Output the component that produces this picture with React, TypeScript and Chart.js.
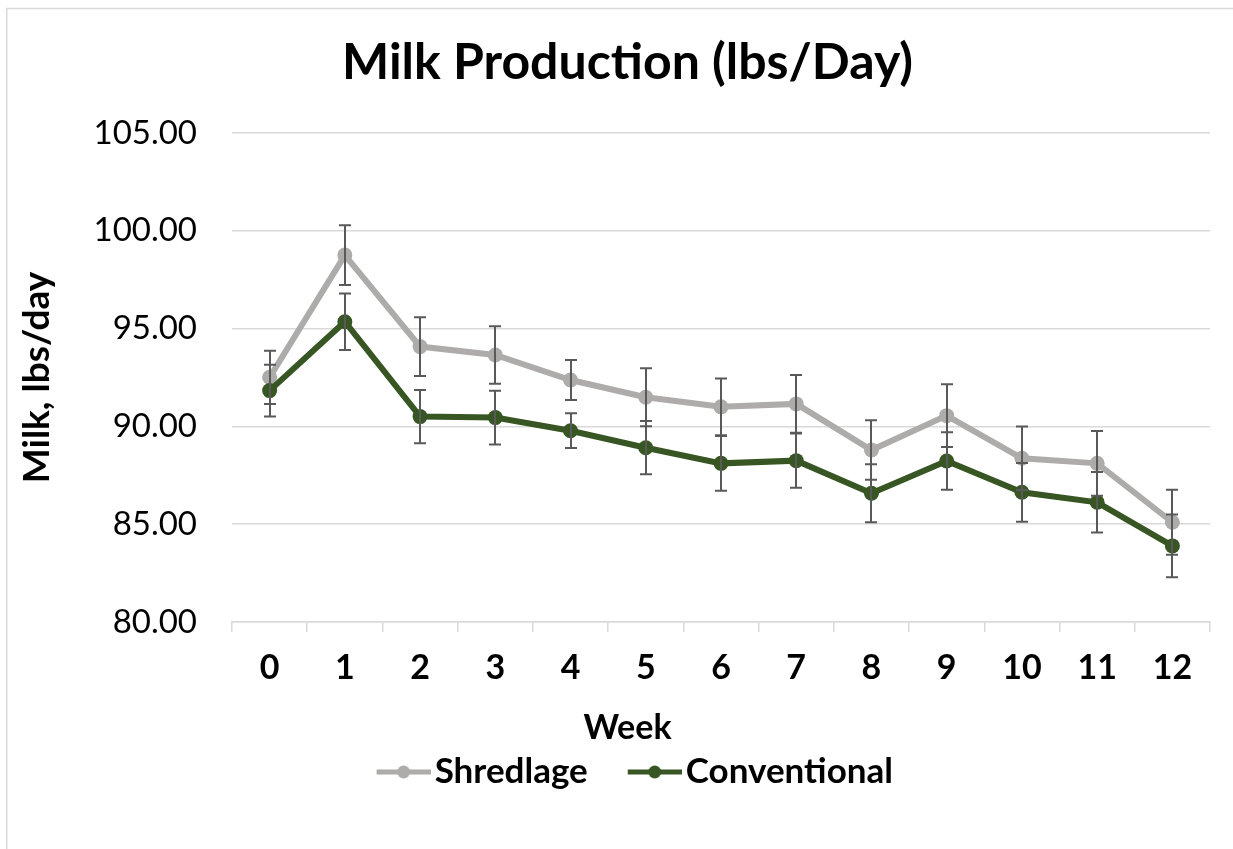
import React, { useEffect, useRef } from 'react';
import { Chart, registerables } from 'chart.js';

Chart.register(...registerables);

// ---------- data ----------
const weeks = ['0', '1', '2', '3', '4', '5', '6', '7', '8', '9', '10', '11', '12'];
const shredlage = [92.51, 98.76, 94.08, 93.65, 92.37, 91.49, 91.0, 91.15, 88.79, 90.55, 88.37, 88.11, 85.1];
const shredlageErr = [1.36, 1.53, 1.5, 1.47, 1.02, 1.48, 1.45, 1.48, 1.52, 1.6, 1.62, 1.65, 1.66];
const conventional = [91.83, 95.35, 90.5, 90.45, 89.78, 88.91, 88.11, 88.25, 86.58, 88.23, 86.63, 86.12, 83.89];
const conventionalErr = [1.32, 1.45, 1.36, 1.37, 0.89, 1.36, 1.4, 1.39, 1.48, 1.47, 1.5, 1.55, 1.6];
const seriesNames = ['Shredlage', 'Conventional'];
const yMin = 80;
const yMax = 105;
const yStep = 5;

const chartTitle = 'Milk Production (lbs/Day)';
const xTitle = 'Week';
const yTitle = 'Milk, lbs/day';

// ---------- styles ----------
const FONT = 'Lato, "Open Sans", sans-serif';
const GRAY = '#AEABAB';
const GREEN = '#375623';
const GRID = '#D9D9D9';
const ERR = '#595959';

function legendImage(color: string): HTMLCanvasElement {
  const c = document.createElement('canvas');
  c.width = 82;
  c.height = 20;
  const g = c.getContext('2d')!;
  g.strokeStyle = color;
  g.lineWidth = 5;
  g.beginPath();
  g.moveTo(28, 10);
  g.lineTo(82, 10);
  g.stroke();
  g.fillStyle = color;
  g.beginPath();
  g.arc(55, 10, 6.5, 0, Math.PI * 2);
  g.fill();
  return c;
}

const errorBarPlugin = {
  id: 'errorBars',
  afterDatasetsDraw(chart: any) {
    const { ctx } = chart;
    const y = chart.scales.y;
    ctx.save();
    ctx.strokeStyle = ERR;
    ctx.lineWidth = 2;
    chart.data.datasets.forEach((ds: any, di: number) => {
      const meta = chart.getDatasetMeta(di);
      meta.data.forEach((pt: any, i: number) => {
        const v = ds.data[i];
        const e = ds.errors[i];
        const px = Math.round(pt.x);
        const top = y.getPixelForValue(v + e);
        const bot = y.getPixelForValue(v - e);
        ctx.beginPath();
        ctx.moveTo(px, top);
        ctx.lineTo(px, bot);
        ctx.moveTo(px - 6, top);
        ctx.lineTo(px + 6, top);
        ctx.moveTo(px - 6, bot);
        ctx.lineTo(px + 6, bot);
        ctx.stroke();
      });
    });
    ctx.restore();
  },
};

const framePlugin = {
  id: 'frame',
  beforeDraw(chart: any) {
    const { ctx, width, height } = chart;
    ctx.save();
    ctx.fillStyle = '#ffffff';
    ctx.fillRect(0, 0, width, height);
    ctx.strokeStyle = GRID;
    ctx.lineWidth = 1.5;
    ctx.strokeRect(6.75, 8.5, 3000, 3000);
    ctx.restore();
  },
};

export default function App() {
  const ref = useRef<HTMLCanvasElement | null>(null);

  useEffect(() => {
    if (!ref.current) return;
    const images = [legendImage(GRAY), legendImage(GREEN)];
    const chart = new Chart(ref.current, {
      type: 'line',
      data: {
        labels: weeks,
        datasets: [
          {
            label: seriesNames[0],
            data: shredlage,
            errors: shredlageErr,
            borderColor: GRAY,
            backgroundColor: GRAY,
            borderWidth: 6,
            pointRadius: 7.5,
            pointBorderWidth: 0,
            pointBackgroundColor: GRAY,
            tension: 0,
            order: 1,
          } as any,
          {
            label: seriesNames[1],
            data: conventional,
            errors: conventionalErr,
            borderColor: GREEN,
            backgroundColor: GREEN,
            borderWidth: 6,
            pointRadius: 7.5,
            pointBorderWidth: 0,
            pointBackgroundColor: GREEN,
            tension: 0,
            order: 0,
          } as any,
        ],
      },
      options: {
        responsive: false,
        animation: false,
        events: [],
        layout: { padding: { left: 22, right: 0, top: 0, bottom: 49.5 } },
        scales: {
          x: {
            type: 'category',
            offset: true,
            grid: {
              offset: true,
              drawOnChartArea: false,
              drawTicks: true,
              tickLength: 10,
              color: GRID,
              lineWidth: 1.5,
            },
            border: { display: true, color: GRID, width: 1.5 },
            ticks: {
              padding: 15.6,
              color: '#000',
              font: { family: FONT, size: 34, weight: 'bold' },
              maxRotation: 0,
            },
            afterFit: (s: any) => {
              s.height = 67;
            },
          },
          y: {
            min: yMin,
            max: yMax,
            grid: { color: GRID, lineWidth: 1.5, drawTicks: false },
            border: { display: false },
            ticks: {
              stepSize: yStep,
              padding: 35,
              color: '#000',
              font: { family: FONT, size: 33 },
              callback: (v: any) => Number(v).toFixed(2),
            },
            title: {
              display: true,
              text: yTitle,
              color: '#000',
              font: { family: FONT, size: 37, weight: 'bold' },
              padding: { top: -7.2, bottom: 0 },
            },
            afterFit: (s: any) => {
              s.width = 210;
            },
          },
          y2: {
            position: 'right',
            display: true,
            grid: { drawOnChartArea: false, drawTicks: false, display: false },
            border: { display: false },
            ticks: { display: false },
            afterFit: (s: any) => {
              s.width = 23;
            },
          },
        },
        plugins: {
          title: {
            display: true,
            text: chartTitle,
            color: '#000',
            font: { family: FONT, size: 50, weight: 'bold' },
            padding: { top: 33, bottom: 40 },
          },
          subtitle: {
            display: true,
            position: 'bottom',
            text: xTitle,
            color: '#000',
            weight: 500,
            font: { family: FONT, size: 34, weight: 'bold' },
            padding: { top: 18.6, bottom: -19.3 },
          } as any,
          legend: {
            display: true,
            position: 'bottom',
            labels: {
              usePointStyle: true,
              pointStyleWidth: 55.1,
              padding: 25.4,
              color: '#000',
              font: { family: FONT, size: 35, weight: 'bold' },
              generateLabels: () =>
                seriesNames.map((name, i) => ({
                  text: name,
                  pointStyle: images[i],
                  fillStyle: 'transparent',
                  strokeStyle: 'transparent',
                  lineWidth: 0,
                  hidden: false,
                  datasetIndex: i,
                  fontColor: '#000',
                })),
            },
          },
          tooltip: { enabled: false },
        },
      },
      plugins: [framePlugin, errorBarPlugin],
    } as any);
    return () => chart.destroy();
  }, []);

  return (
    <div style={{ position: 'absolute', left: 0, top: 0, width: 1233, height: 849 }}>
      <canvas ref={ref} width={1233} height={849} />
    </div>
  );
}
